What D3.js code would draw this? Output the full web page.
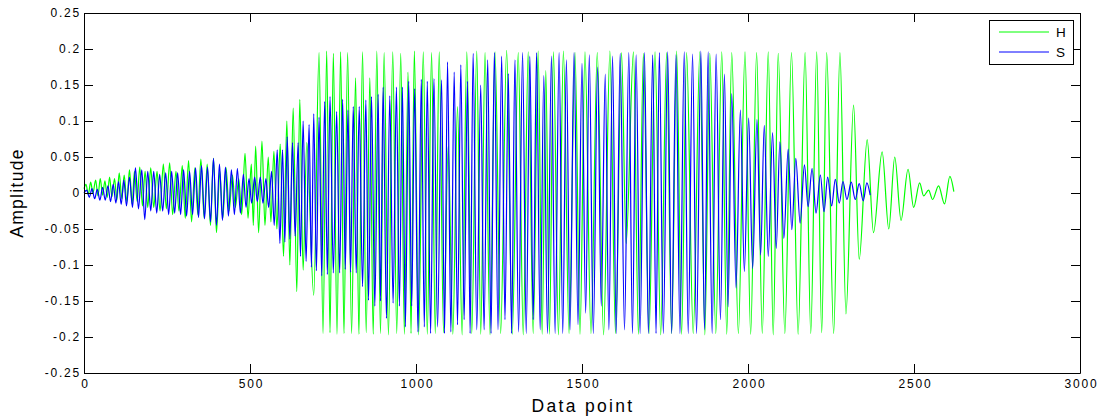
<!DOCTYPE html>
<html>
<head>
<meta charset="utf-8">
<script src="https://cdn.jsdelivr.net/npm/d3@7"></script>
<style>
  body { margin: 0; background: #fff; }
  text { font-family: "Liberation Sans", Arial, sans-serif; fill: #000; }
</style>
</head>
<body>
<svg id="chart" width="1102" height="416"></svg>
<script>
// extrema: [data point, amplitude]
const hStart = [0, 0.006];
const hEnd = [2620, 0.002];
const hPeaks = [
  [6,.012],[20,.015],[35,.018],[49,.020],[63,.017],[77,.022],[92,.020],[106,.028],[121,.025],[137,.032],[152,.030],[168,.036],[184,.030],
  [201,.035],[220,.030],[239,.040],[258,.042],[277,.030],[296,.038],[315,.045],[334,.035],[352,.047],[371,.040],[390,.048],[409,.030],[428,.035],[447,.025],[466,.020],[485,.055],
  [504,.040],[517,.065],[536,.072],[555,.050],[572,.058],[591,.068],[611,.100],[630,.118],[650,.130],[671,.070],
  [708,.195],[731,.197],[751,.194],[773,.196],[794,.195],[818,.160],[839,.196],[861,.160],[882,.197],[904,.195],[930,.196],[954,.194],[976,.168],[995,.197],
  [1022,.196],[1047,.195],[1070,.196],[1097,.065],[1125,.120],[1153,.196],[1183,.197],[1208,.195],[1238,.196],[1273,.198],[1308,.195],[1338,.196],[1368,.197],[1391,.170],[1414,.196],[1444,.197],[1479,.195],
  [1509,.196],[1546,.195],[1584,.197],[1619,.195],[1655,.196],[1685,.194],[1720,.196],[1755,.195],[1785,.197],[1815,.195],[1855,.196],[1885,.194],[1921,.196],[1951,.195],[1991,.196],
  [2026,.195],[2061,.196],[2091,.194],[2131,.195],[2172,.195],[2207,.196],[2237,.195],[2277,.195],
  [2318,.122],[2359,.074],[2404,.057],[2442,.050],[2482,.033],[2517,.014],[2544,.004],[2574,.010],[2608,.023]
];
const hTroughs = [
  [13,-.002],[27,.000],[42,-.004],[56,-.003],[70,-.006],[84,-.005],[99,-.010],[114,-.008],[129,-.012],[145,-.015],[160,-.012],[176,-.018],[192,-.020],
  [210,-.020],[229,-.025],[248,-.022],[267,-.030],[286,-.025],[305,-.035],[324,-.040],[343,-.030],[362,-.035],[381,-.045],[399,-.055],[418,-.035],[437,-.025],[456,-.020],[475,-.030],[494,-.035],
  [510,-.045],[526,-.055],[545,-.045],[563,-.040],[581,-.050],[601,-.088],[620,-.100],[641,-.137],[660,-.107],[692,-.142],
  [720,-.195],[741,-.194],[762,-.196],[783,-.195],[806,-.195],[828,-.196],[850,-.194],[871,-.196],[893,-.195],[917,-.197],[942,-.195],[965,-.196],[985,-.195],
  [1008,-.197],[1034,-.196],[1058,-.195],[1083,-.194],[1111,-.196],[1139,-.197],[1168,-.195],[1195,-.196],[1223,-.197],[1255,-.195],[1290,-.196],[1323,-.197],[1353,-.195],[1380,-.196],[1402,-.196],[1429,-.197],[1461,-.195],[1494,-.196],
  [1527,-.195],[1565,-.197],[1601,-.195],[1633,-.070],[1670,-.196],[1702,-.195],[1737,-.197],[1770,-.195],[1800,-.196],[1835,-.195],[1870,-.197],[1903,-.195],[1936,-.196],[1971,-.195],
  [2008,-.196],[2043,-.195],[2076,-.197],[2111,-.195],[2151,-.196],[2189,-.195],[2222,-.194],[2258,-.195],[2295,-.168],[2335,-.092],[2378,-.055],[2424,-.050],[2461,-.038],[2499,-.020],[2529,-.004],[2556,-.009],[2592,-.015]
];

const sStart = [0, 0.000];
const sEnd = [2368, -0.003];
const sPeaks = [
  [8,.004],[24,.006],[40,.005],[56,.008],[72,.010],[88,.012],[104,.016],[120,.018],[137,.022],[155,.035],[174,.032],[192,.030],
  [210,.030],[228,.026],[246,.028],[264,.030],[282,.028],[300,.032],[318,.030],[336,.035],[354,.038],[372,.036],[390,.048],[408,.040],[426,.036],[444,.032],[462,.034],[480,.026],[497,.020],
  [514,.022],[531,.022],[548,.020],[565,.030],[582,.060],[598,.060],[612,.078],[628,.070],[645,.070],[660,.100],[678,.095],[692,.110],[708,.105],[725,.127],[741,.134],
  [761,.113],[779,.130],[795,.115],[811,.120],[829,.120],[849,.129],[866,.134],[886,.137],[901,.147],[921,.135],[941,.147],[959,.147],[978,.155],[996,.145],
  [1016,.158],[1034,.155],[1054,.159],[1077,.157],[1095,.182],[1115,.168],[1135,.178],[1155,.155],[1172,.194],[1195,.150],[1216,.185],[1236,.195],[1258,.190],[1278,.166],
  [1298,.185],[1321,.195],[1343,.190],[1363,.195],[1385,.163],[1408,.190],[1431,.195],[1453,.185],[1476,.195],[1500,.180],[1522,.192],[1547,.175],[1570,.165],[1592,.190],
  [1615,.194],[1641,.195],[1663,.192],[1688,.195],[1713,.192],[1733,.195],[1758,.196],[1783,.192],[1808,.196],[1833,.193],[1858,.197],[1880,.196],[1904,.193],[1929,.165],
  [1951,.138],[1977,.115],[2002,.104],[2027,.102],[2049,.094],[2074,.084],[2096,.071],[2121,.061],[2144,.048],[2170,.039],[2193,.034],[2218,.025],
  [2240,.022],[2263,.019],[2286,.016],[2311,.015],[2335,.013],[2358,.014]
];
const sTroughs = [
  [16,-.006],[32,-.008],[48,-.010],[64,-.010],[80,-.012],[96,-.014],[112,-.016],[128,-.018],[146,-.020],[164,-.022],[183,-.037],[201,-.025],
  [219,-.028],[237,-.025],[255,-.030],[273,-.028],[291,-.030],[309,-.032],[327,-.030],[345,-.034],[363,-.036],[381,-.040],[399,-.045],[417,-.038],[435,-.032],[453,-.030],[471,-.028],[488,-.020],
  [505,-.014],[522,-.012],[539,-.014],[556,-.020],[573,-.045],[590,-.070],[605,-.068],[620,-.064],[636,-.060],[652,-.088],[669,-.095],[685,-.103],[700,-.108],[716,-.115],[733,-.113],
  [751,-.111],[770,-.111],[787,-.106],[803,-.110],[820,-.111],[839,-.130],[857,-.149],[876,-.157],[893,-.150],[911,-.174],[931,-.153],[950,-.157],[968,-.186],[987,-.157],
  [1006,-.193],[1025,-.186],[1044,-.195],[1065,-.186],[1086,-.195],[1105,-.193],[1125,-.183],[1145,-.176],[1163,-.195],[1183,-.190],[1205,-.190],[1226,-.195],[1247,-.190],[1268,-.176],
  [1288,-.195],[1309,-.193],[1332,-.195],[1353,-.176],[1374,-.190],[1396,-.195],[1419,-.195],[1442,-.195],[1464,-.190],[1488,-.183],[1511,-.167],[1534,-.195],[1558,-.157],[1581,-.190],
  [1603,-.195],[1628,-.190],[1652,-.195],[1675,-.195],[1700,-.195],[1723,-.195],[1745,-.195],[1770,-.195],[1795,-.195],[1820,-.195],[1845,-.195],[1869,-.190],[1892,-.195],[1917,-.176],
  [1940,-.158],[1964,-.132],[1989,-.109],[2014,-.105],[2038,-.086],[2061,-.088],[2085,-.077],[2108,-.063],[2132,-.051],[2157,-.042],[2181,-.019],[2205,-.028],
  [2229,-.026],[2252,-.018],[2275,-.014],[2298,-.009],[2323,-.009],[2347,-.011]
];

const xTicks = [0, 500, 1000, 1500, 2000, 2500, 3000];
const yTicks = [-0.25, -0.2, -0.15, -0.1, -0.05, 0, 0.05, 0.1, 0.15, 0.2, 0.25];
const seriesNames = ["H", "S"];
const seriesColors = ["#00ff00", "#0000ff"];

const svg = d3.select("#chart");
const plotLeft = 84, plotRight = 1080, plotTop = 13, plotBottom = 373;

const x = d3.scaleLinear().domain([0, 3000]).range([plotLeft, plotRight]);
const y = d3.scaleLinear().domain([-0.25, 0.25]).range([plotBottom, plotTop]);

svg.append("rect").attr("width", 1102).attr("height", 416).attr("fill", "#fff");

// join start, extrema and end of a series in order of data point
function buildSeries(start, peaks, troughs, end) {
    const pts = [start].concat(peaks, troughs, [end]);
    pts.sort((a, b) => a[0] - b[0]);
    return pts;
}

const line = d3.line()
    .x(d => x(d[0]))
    .y(d => y(d[1]))
    .curve(d3.curveMonotoneX);

const plot = svg.append("g");
const allSeries = [
    buildSeries(hStart, hPeaks, hTroughs, hEnd),
    buildSeries(sStart, sPeaks, sTroughs, sEnd)
];
allSeries.forEach((pts, i) => {
    plot.append("path")
        .attr("d", line(pts))
        .attr("fill", "none")
        .attr("stroke", seriesColors[i])
        .attr("stroke-width", 1.2);
});

// axes, MATLAB style: ticks pointing inward on all four sides
const tickLen = 9;
const fmt = d => d === 0 ? "0" : String(+d.toFixed(2));

const xb = svg.append("g").attr("transform", `translate(0,${plotBottom})`)
    .call(d3.axisBottom(x).tickValues(xTicks).tickSizeInner(-tickLen).tickSizeOuter(0).tickPadding(6).tickFormat(fmt));
const xt = svg.append("g").attr("transform", `translate(0,${plotTop})`)
    .call(d3.axisTop(x).tickValues(xTicks).tickSizeInner(-tickLen).tickSizeOuter(0).tickFormat(""));
const yl = svg.append("g").attr("transform", `translate(${plotLeft},0)`)
    .call(d3.axisLeft(y).tickValues(yTicks).tickSizeInner(-tickLen).tickSizeOuter(0).tickPadding(3).tickFormat(fmt));
const yr = svg.append("g").attr("transform", `translate(${plotRight},0)`)
    .call(d3.axisRight(y).tickValues(yTicks).tickSizeInner(-tickLen).tickSizeOuter(0).tickFormat(""));

[xb, xt, yl, yr].forEach(g => {
    g.select(".domain").attr("stroke", "#000").attr("stroke-width", 1);
    g.selectAll(".tick line").attr("stroke", "#000").attr("stroke-width", 1);
    g.selectAll("text")
        .attr("font-size", 12)
        .attr("letter-spacing", 1.8)
        .attr("font-family", "Liberation Sans, Arial, sans-serif")
        .attr("fill", "#000");
});
xb.selectAll(".tick text").attr("dx", 1);

svg.append("text")
    .attr("x", (plotLeft + plotRight) / 2 + 1).attr("y", 411.5)
    .attr("text-anchor", "middle").attr("font-size", 17.5)
    .attr("letter-spacing", 2.3)
    .text("Data point");

svg.append("text")
    .attr("transform", "translate(22.5,193) rotate(-90)")
    .attr("text-anchor", "middle").attr("font-size", 17.5)
    .attr("letter-spacing", 1.3)
    .text("Amplitude");

// legend
const legend = svg.append("g");
legend.append("rect")
    .attr("x", 989.5).attr("y", 20.5).attr("width", 84).attr("height", 44)
    .attr("fill", "#fff").attr("stroke", "#000").attr("stroke-width", 1);
seriesNames.forEach((name, i) => {
    const ly = 32 + i * 20;
    legend.append("line")
        .attr("x1", 999).attr("x2", 1049).attr("y1", ly).attr("y2", ly)
        .attr("stroke", seriesColors[i]).attr("stroke-width", 1);
    legend.append("text")
        .attr("x", 1056).attr("y", ly + 5)
        .attr("font-size", 13.5)
        .text(name);
});
</script>
</body>
</html>
